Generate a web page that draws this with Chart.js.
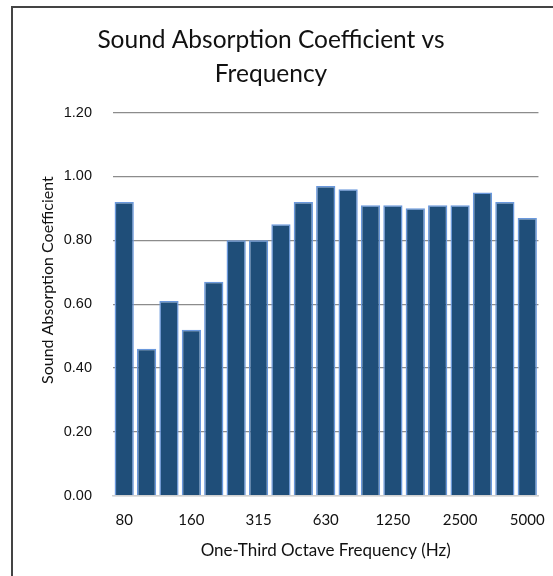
<!DOCTYPE html>
<html>
<head>
<meta charset="utf-8">
<script src="https://cdn.jsdelivr.net/npm/chart.js@4"></script>
<style>
  body { margin: 0; background: #fff; overflow: hidden; }
  #box { position: absolute; left: 11px; top: 6px; width: 600px; height: 640px; border: 2px solid #444; }
  #myChart { position: absolute; left: 0; top: 0; }
</style>
</head>
<body>
<div id="box"></div>
<canvas id="myChart" width="553" height="576"></canvas>
<script>
const freqs = ['80', '100', '125', '160', '200', '250', '315', '400', '500', '630',
               '800', '1000', '1250', '1600', '2000', '2500', '3150', '4000', '5000'];
const absorption = [0.92, 0.46, 0.61, 0.52, 0.67, 0.80, 0.80, 0.85, 0.92, 0.97,
                    0.96, 0.91, 0.91, 0.90, 0.91, 0.91, 0.95, 0.92, 0.87];
const shownLabels = ['80', '160', '315', '630', '1250', '2500', '5000'];

const ctx = document.getElementById('myChart');
const mychart = new Chart(ctx, {
    type: 'bar',
    data: {
        labels: freqs,
        datasets: [{
            label: 'Sound Absorption Coefficient',
            data: absorption,
            backgroundColor: '#1f4e79',
            borderColor: '#6a98dc',
            borderWidth: 1.5,
            barPercentage: 0.86,
            categoryPercentage: 1.0
        }]
    },
    options: {
        responsive: false,
        animation: false,
        layout: { padding: { left: 2, right: 13, top: 14, bottom: 11 } },
        plugins: {
            legend: { display: false },
            tooltip: { enabled: false },
            title: {
                display: true,
                text: ['Sound Absorption Coefficient vs', 'Frequency'],
                color: '#111',
                font: { family: 'Lato', size: 24.5, weight: 'normal', lineHeight: 1.38 },
                padding: { top: 9, bottom: 22 }
            }
        },
        scales: {
            x: {
                grid: { display: false },
                border: { color: '#d0d0d0', width: 1.5 },
                ticks: {
                    autoSkip: false,
                    maxRotation: 0,
                    color: '#111',
                    font: { family: 'Lato', size: 15 },
                    padding: 8,
                    callback: function (v) {
                        const l = this.getLabelForValue(v);
                        return shownLabels.includes(l) ? l : '';
                    }
                },
                title: {
                    display: true,
                    text: 'One-Third Octave Frequency (Hz)',
                    color: '#111',
                    font: { family: 'Lato', size: 17 },
                    padding: { top: 3 }
                }
            },
            y: {
                min: 0,
                max: 1.2,
                afterFit: s => { s.width = 111; },
                ticks: {
                    stepSize: 0.2,
                    color: '#111',
                    font: { family: 'Liberation Sans', size: 14.5 },
                    padding: 21,
                    callback: v => v.toFixed(2)
                },
                grid: {
                    color: c => c.tick && c.tick.value === 0 ? '#d0d0d0' : '#8c8c8c',
                    lineWidth: 1.2,
                    drawTicks: false
                },
                border: { display: false },
                title: {
                    display: true,
                    // leading en spaces lift the label to the middle of the whole chart
                    text: '\u2002\u2002\u2002\u2002\u2002\u2002Sound Absorption Coefficient',
                    color: '#111',
                    font: { family: 'Lato', size: 16 },
                    padding: { top: 36, bottom: 8 }
                }
            }
        }
    }
});
</script>
</body>
</html>
